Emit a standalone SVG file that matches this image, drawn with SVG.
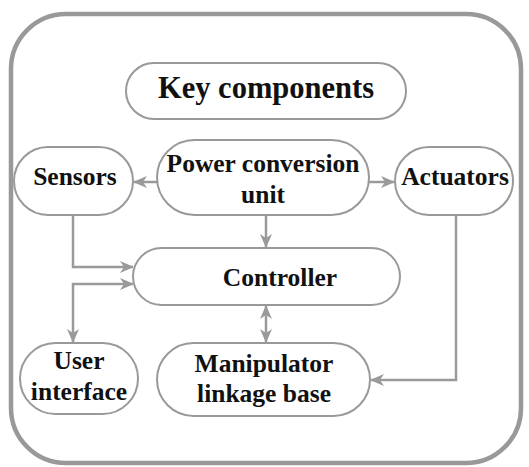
<svg xmlns="http://www.w3.org/2000/svg" width="529" height="467" viewBox="0 0 529 467">
<style>
.node{fill:#ffffff;stroke:#999999;stroke-width:2}
.lbl{font-family:"Liberation Serif","Times New Roman",serif;font-weight:bold;font-size:25.5px;fill:#111111;text-anchor:middle}
.conn{fill:none;stroke:#9a9a9a;stroke-width:2.5}
</style>
<defs>
<marker id="ah" viewBox="0 0 14 12" refX="13" refY="6" markerWidth="14" markerHeight="12" markerUnits="userSpaceOnUse" orient="auto-start-reverse">
<path d="M0,0 L14,6 L0,12 L4,6 z" fill="#9a9a9a"/>
</marker>
</defs>
<rect x="0" y="0" width="529" height="467" fill="#ffffff"/>
<rect id="frame" x="11" y="14" width="510" height="449" rx="55" ry="55" fill="#ffffff" stroke="#999999" stroke-width="4.5"/>
<g id="connectors">
<path class="conn" d="M157,182 L134,182" marker-end="url(#ah)"/>
<path class="conn" d="M369,182 L394,182" marker-end="url(#ah)"/>
<path class="conn" d="M266,215 L266,247" marker-end="url(#ah)"/>
<path class="conn" d="M73,215 L73,267 L133,267" marker-end="url(#ah)"/>
<path class="conn" d="M133,284 L73,284 L73,342" marker-start="url(#ah)" marker-end="url(#ah)"/>
<path class="conn" d="M266,306 L266,342" marker-start="url(#ah)" marker-end="url(#ah)"/>
<path class="conn" d="M456,215 L456,380 L371,380" marker-end="url(#ah)"/>
</g>
<g id="key-components">
<rect class="node" x="126" y="63" width="280" height="56" rx="28"/>
<text class="lbl" x="266" y="98" style="font-size:30.5px">Key components</text>
</g>
<g id="sensors">
<rect class="node" x="14" y="147" width="119" height="68" rx="34"/>
<text class="lbl" x="75" y="185">Sensors</text>
</g>
<g id="power-conversion-unit">
<rect class="node" x="157" y="140" width="212" height="75" rx="37.5"/>
<text class="lbl" x="263" y="172">Power conversion</text>
<text class="lbl" x="263" y="203">unit</text>
</g>
<g id="actuators">
<rect class="node" x="395" y="147" width="118" height="68" rx="34"/>
<text class="lbl" x="455" y="185">Actuators</text>
</g>
<g id="controller">
<rect class="node" x="133" y="248" width="267" height="57" rx="28.5"/>
<text class="lbl" x="280" y="286">Controller</text>
</g>
<g id="user-interface">
<rect class="node" x="20" y="343" width="118" height="71" rx="35.5"/>
<text class="lbl" x="79" y="369">User</text>
<text class="lbl" x="79" y="400">interface</text>
</g>
<g id="manipulator-linkage-base">
<rect class="node" x="157" y="343" width="213" height="73" rx="36.5"/>
<text class="lbl" x="264" y="372">Manipulator</text>
<text class="lbl" x="264" y="402">linkage base</text>
</g>
</svg>
